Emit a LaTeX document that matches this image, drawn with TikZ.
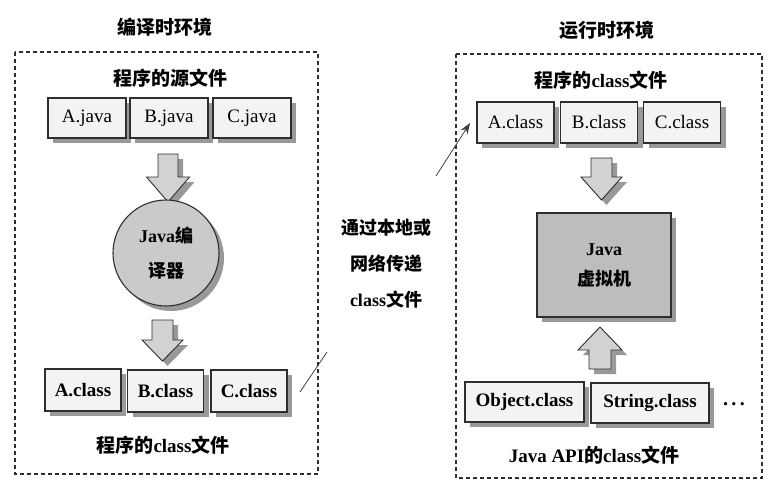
\documentclass[tikz,border=0pt]{standalone}
\usepackage{fontspec}
\setmainfont{Liberation Serif}
\newfontfamily\cjk{Noto Sans CJK SC}
\usetikzlibrary{shadows,arrows.meta}
\newcommand\zh[1]{{\cjk #1}}
\definecolor{boxfill}{HTML}{F3F3F3}
\definecolor{arrfill}{HTML}{D2D2D2}
\definecolor{ballfill}{HTML}{CACACA}
\definecolor{vmfill}{HTML}{BDBDBD}
\definecolor{edge}{HTML}{2E2E2E}
\newcommand\blockarr[6]{% x, ytail, yneck, ytip, half shaft, half head
  \draw[barrow] (#1-#5,#2) -- (#1+#5,#2) -- (#1+#5,#3) -- (#1+#6,#3) -- (#1,#4)
    -- (#1-#6,#3) -- (#1-#5,#3) -- cycle;}
\begin{document}
\begin{tikzpicture}[x=1pt,y=-1pt,
  shad/.style={drop shadow={shadow xshift=5pt, shadow yshift=-5pt, fill=black!40, opacity=1}},
  envbox/.style={draw=edge, line width=1.3pt, dash pattern=on 4pt off 3pt},
  file/.style={draw=edge, line width=1.1pt, fill=boxfill, minimum width=78pt,
    minimum height=40pt, inner sep=0pt, font=\fontsize{19}{22}\selectfont, shad},
  bfile/.style={file, font=\fontsize{19}{22}\selectfont\bfseries},
  title/.style={font=\cjk\fontsize{19}{22}\selectfont\bfseries},
  caption/.style={font=\fontsize{19}{22}\selectfont\bfseries},
  barrow/.style={draw=edge, line width=0.9pt, fill=arrfill, shad},
  thin/.style={draw=black!75, line width=0.8pt}
]
\useasboundingbox (0,0) rectangle (768,495);

% environments
\draw[envbox] (15,52) rectangle (318,474);
\draw[envbox] (456,54) rectangle (762,478);

% left side
\node[title] (t1) at (165,27) {编译时环境};
\node[title] (l1) at (170,78) {程序的源文件};
\node[file] (aj) at (87,118) {A.java};
\node[file] (bj) at (169,118) {B.java};
\node[file] (cj) at (252,118) {C.java};
\blockarr{168}{154}{177}{202}{10}{21.5}
\node[circle, draw=edge, line width=1.1pt, fill=ballfill, minimum size=106pt,
  inner sep=0pt, align=center, font=\fontsize{18}{35}\selectfont\bfseries, shad]
  (comp) at (166,253) {Java\zh{编}\\\zh{译器}};
\blockarr{162.5}{320}{340}{361}{10.5}{20.5}
\node[bfile, minimum width=76pt, minimum height=42pt] (ac) at (83,390) {A.class};
\node[bfile, minimum width=76pt, minimum height=42pt] (bc) at (165.5,391) {B.class};
\node[bfile, minimum width=76pt, minimum height=42pt] (cc) at (249,391) {C.class};
\node[caption] (l2) at (163,445) {\zh{程序的}class\zh{文件}};

% transfer
\coordinate (s1) at (300,392);
\coordinate (s2) at (327,352);
\draw[thin] (s1) -- (s2);
\node[align=center, font=\fontsize{18}{36}\selectfont\bfseries] (mid) at (386,264)
  {\zh{通过本地或}\\\zh{网络传递}\\class\zh{文件}};
\coordinate (p1) at (436,176);
\coordinate (p2) at (470,123);
\draw[thin, -{Stealth[length=11pt,width=8pt]}] (p1) -- (p2);

% right side
\node[title] (t2) at (607,30) {运行时环境};
\node[caption] (r1) at (601,80) {\zh{程序的}class\zh{文件}};
\node[file, minimum width=77pt, minimum height=41pt] (ra) at (515.5,122.5) {A.class};
\node[file, minimum width=77pt, minimum height=41pt] (rb) at (599,122.5) {B.class};
\node[file, minimum width=77pt, minimum height=41pt] (rc) at (682,122.5) {C.class};
\blockarr{601.5}{158}{177}{200}{10.5}{20.5}
\node[draw=edge, line width=1.1pt, fill=vmfill, minimum width=134pt, minimum height=104pt,
  inner sep=0pt, align=center, font=\fontsize{18}{30}\selectfont\bfseries, shad]
  (jvm) at (604,265) {Java\\\zh{虚拟机}};
\blockarr{600}{369}{350}{327}{11}{22}
\node[bfile, minimum width=119pt] (obj) at (524.5,402) {Object.class};
\node[bfile, minimum width=118pt] (str) at (650,403) {String.class};
\node[font=\fontsize{20}{22}\selectfont\bfseries] (dots) at (734,404) {.\,.\,.};
\node[caption] (l3) at (594,455) {Java API\zh{的}class\zh{文件}};
\end{tikzpicture}
\end{document}
